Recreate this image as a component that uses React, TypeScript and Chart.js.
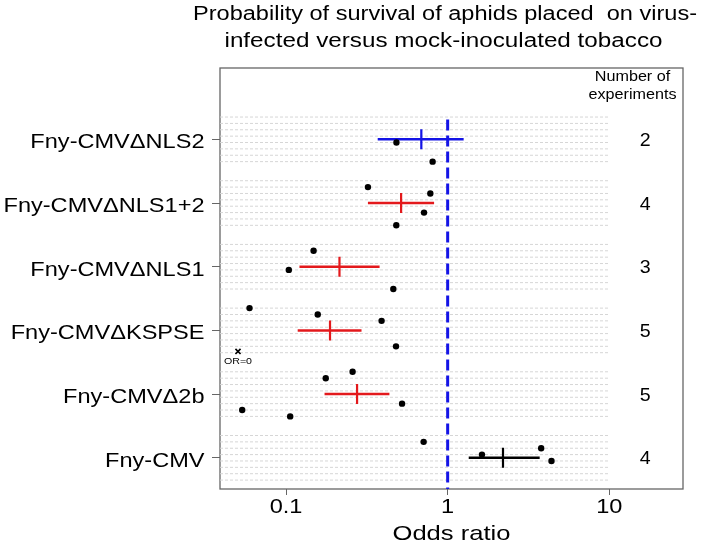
import React, { useEffect, useRef } from 'react';
import { Chart, registerables } from 'chart.js';

Chart.register(...registerables);

// ---------- data ----------
const titleLines = ['Probability of survival of aphids placed  on virus-', 'infected versus mock-inoculated tobacco'];
const categories = ['Fny-CMVΔNLS2', 'Fny-CMVΔNLS1+2', 'Fny-CMVΔNLS1', 'Fny-CMVΔKSPSE', 'Fny-CMVΔ2b', 'Fny-CMV'];
const categoryY = [6, 5, 4, 3, 2, 1];
const experimentCounts = [2, 4, 3, 5, 5, 4];
const countHeader = ['Number of', 'experiments'];
const estimateOR = [0.687, 0.515, 0.214, 0.187, 0.275, 2.2];
const ciLowerOR = [0.369, 0.321, 0.121, 0.118, 0.173, 1.35];
const ciUpperOR = [1.256, 0.824, 0.379, 0.293, 0.436, 3.71];
const groupColors = ['#1414e6', '#e3191c', '#e3191c', '#e3191c', '#e3191c', '#000000'];

// individual experiments: group index, odds ratio, row offset within the group
const dotGroup = [0, 0, 1, 1, 1, 1, 2, 2, 2, 3, 3, 3, 3, 4, 4, 4, 4, 4, 5, 5, 5, 5];
const dotOR = [0.482, 0.807, 0.321, 0.781, 0.714, 0.481, 0.148, 0.104, 0.461, 0.0594, 0.157, 0.39, 0.479, 0.258, 0.176, 0.522, 0.0535, 0.106, 0.71, 3.79, 1.63, 4.39];
const dotRow = [-0.05, -0.35, 0.25, 0.15, -0.15, -0.35, 0.25, -0.05, -0.35, 0.35, 0.25, 0.15, -0.25, 0.35, 0.25, -0.15, -0.25, -0.35, 0.25, 0.15, 0.05, -0.05];

const zeroGroup = 3;
const zeroOR = 0.0504;
const zeroRow = -0.33;
const zeroLabel = 'OR=0';

const gridRows = [-0.35, -0.25, -0.15, -0.05, 0.05, 0.15, 0.25, 0.35];
const gridEndOR = 10;
const xTicks = [0.1, 1, 10];
const xTickLabels = ['0.1', '1', '10'];
const xTitle = 'Odds ratio';
const refOR = 1;
const refTop = 6.31;
const xMin = 0.039;
const xMax = 28.6;
const yMin = 0.51;
const yMax = 7.12;
const tickHalf = 0.157;

// ---------- helpers ----------
const FONT = '"Liberation Sans", Arial, Helvetica, sans-serif';

function drawText(ctx: CanvasRenderingContext2D, text: string, x: number, y: number, size: number, align: CanvasTextAlign, sx: number, color = '#000') {
  ctx.save();
  ctx.font = `${size}px ${FONT}`;
  ctx.fillStyle = color;
  ctx.textAlign = align;
  ctx.textBaseline = 'alphabetic';
  ctx.translate(x, y);
  ctx.scale(sx, 1);
  ctx.fillText(text, 0, 0);
  ctx.restore();
}

function fitScale(ctx: CanvasRenderingContext2D, text: string, size: number, width: number) {
  ctx.save();
  ctx.font = `${size}px ${FONT}`;
  const w = ctx.measureText(text).width;
  ctx.restore();
  return width / w;
}

const textPlugin = {
  id: 'textPlugin',
  beforeDatasetsDraw(chart: any) {
    const { ctx, chartArea } = chart;
    ctx.save();
    ctx.strokeStyle = '#666';
    ctx.lineWidth = 1.3;
    ctx.strokeRect(chartArea.left, chartArea.top, chartArea.right - chartArea.left, chartArea.bottom - chartArea.top);
    ctx.restore();
  },
  afterDraw(chart: any) {
    const { ctx, chartArea, scales } = chart;
    const xs = scales.x;
    const ys = scales.y;

    // title
    const t1 = fitScale(ctx, titleLines[0], 20, 504);
    drawText(ctx, titleLines[0], 445, 20, 20, 'center', t1);
    const t2 = fitScale(ctx, titleLines[1], 20, 438);
    drawText(ctx, titleLines[1], 443.5, 46.5, 20, 'center', t2);

    // y labels
    const ysx = fitScale(ctx, categories[1], 21, 201);
    categories.forEach((c, i) => {
      const py = ys.getPixelForValue(categoryY[i]);
      drawText(ctx, c, chartArea.left - 15.5, py + 8.8, 21, 'right', ysx);
    });

    // x tick labels
    xTicks.forEach((v, i) => {
      const px = xs.getPixelForValue(v);
      drawText(ctx, xTickLabels[i], px, 513.3, 21, 'center', ysx);
    });
    const xtsx = fitScale(ctx, xTitle, 21, 118);
    drawText(ctx, xTitle, (chartArea.left + chartArea.right) / 2, 540, 21, 'center', xtsx);

    // counts header and counts
    const hsx = fitScale(ctx, countHeader[1], 14, 88);
    drawText(ctx, countHeader[0], 632.5, 81, 14, 'center', hsx);
    drawText(ctx, countHeader[1], 632.5, 98.5, 14, 'center', hsx);
    experimentCounts.forEach((n, i) => {
      const py = ys.getPixelForValue(categoryY[i]);
      drawText(ctx, String(n), 645.3, py + 6.6, 17.5, 'center', 1.12);
    });

    // OR=0 label
    const zx = xs.getPixelForValue(zeroOR);
    const zy = ys.getPixelForValue(categoryY[zeroGroup] + zeroRow);
    drawText(ctx, zeroLabel, zx, zy + 13, 9.5, 'center', 1.12);
  },
};

export default function App() {
  const ref = useRef<HTMLCanvasElement | null>(null);

  useEffect(() => {
    if (!ref.current) return;
    const datasets: any[] = [];

    // dots (top-most)
    datasets.push({
      data: dotOR.map((v, i) => ({ x: v, y: categoryY[dotGroup[i]] + dotRow[i] })),
      showLine: false,
      pointRadius: 3.2,
      pointBackgroundColor: '#000',
      pointBorderColor: '#000',
      pointBorderWidth: 0,
    });
    // OR = 0 marker
    datasets.push({
      data: [{ x: zeroOR, y: categoryY[zeroGroup] + zeroRow }],
      showLine: false,
      pointStyle: 'crossRot',
      pointRadius: 3.6,
      pointBorderColor: '#000',
      pointBorderWidth: 1.6,
    });
    // estimate crosses
    categoryY.forEach((c, i) => {
      datasets.push({
        data: [{ x: ciLowerOR[i], y: c }, { x: ciUpperOR[i], y: c }],
        showLine: true,
        borderColor: groupColors[i],
        borderWidth: 2.5,
        pointRadius: 0,
      });
      datasets.push({
        data: [{ x: estimateOR[i], y: c + tickHalf }, { x: estimateOR[i], y: c - tickHalf }],
        showLine: true,
        borderColor: groupColors[i],
        borderWidth: 2.2,
        pointRadius: 0,
      });
    });
    // reference line at OR = 1
    datasets.push({
      data: [{ x: refOR, y: refTop }, { x: refOR, y: yMin }],
      showLine: true,
      borderColor: '#1414e6',
      borderWidth: 3,
      borderDash: [11, 5],
      pointRadius: 0,
    });
    // light dashed guide rows
    categoryY.forEach((c) => {
      gridRows.forEach((r) => {
        datasets.push({
          data: [{ x: xMin, y: c + r }, { x: gridEndOR, y: c + r }],
          showLine: true,
          borderColor: '#d6d6d6',
          borderWidth: 1,
          borderDash: [3, 2],
          pointRadius: 0,
        });
      });
    });

    const chart = new Chart(ref.current, {
      type: 'scatter',
      data: { datasets },
      options: {
        animation: false,
        responsive: false,
        maintainAspectRatio: false,
        events: [],
        layout: { padding: { top: 68, right: 26, left: 0, bottom: 0 } },
        plugins: {
          legend: { display: false },
          tooltip: { enabled: false },
          title: { display: false },
        },
        scales: {
          x: {
            type: 'logarithmic',
            min: xMin,
            max: xMax,
            position: 'bottom',
            afterBuildTicks: (s: any) => {
              s.ticks = xTicks.map((v) => ({ value: v }));
            },
            afterFit: (s: any) => {
              s.height = 57;
            },
            ticks: { display: false },
            grid: { drawOnChartArea: false, drawTicks: true, tickLength: 6, color: '#666', lineWidth: 1 },
            border: { display: false },
          },
          y: {
            type: 'linear',
            min: yMin,
            max: yMax,
            position: 'left',
            afterBuildTicks: (s: any) => {
              s.ticks = categoryY.map((v) => ({ value: v }));
            },
            afterFit: (s: any) => {
              s.width = 220;
            },
            ticks: { display: false },
            grid: { drawOnChartArea: false, drawTicks: true, tickLength: 8, color: '#666', lineWidth: 1 },
            border: { display: false },
          },
        },
      } as any,
      plugins: [textPlugin],
    });
    return () => chart.destroy();
  }, []);

  return (
    <div style={{ position: 'absolute', left: 0, top: 0, width: 709, height: 546, background: '#fff' }}>
      <canvas ref={ref} width={709} height={546} style={{ width: 709, height: 546, display: 'block' }} />
    </div>
  );
}
